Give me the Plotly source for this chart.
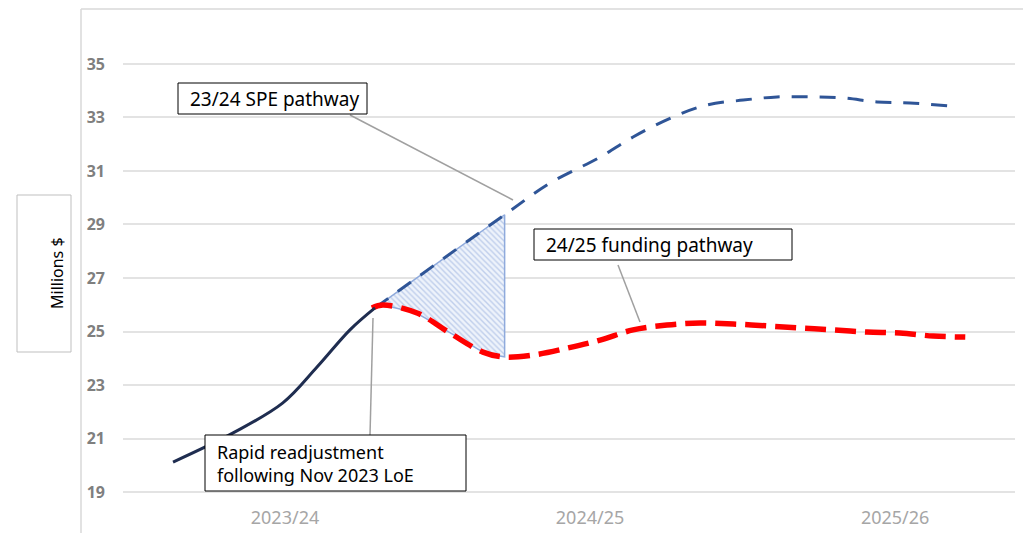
import numpy as np
import plotly.graph_objects as go

# ---- data ----
period_labels = ["2023/24", "2024/25", "2025/26"]
period_pos = [0, 1, 2]
y_ticks = [19, 21, 23, 25, 27, 29, 31, 33, 35]

actual_x = [-0.367, -0.170, -0.007, 0.105, 0.213, 0.295]
actual_y = [20.12, 21.21, 22.33, 23.67, 25.06, 25.88]

spe_x = [0.295, 0.728, 0.869, 1.033, 1.141, 1.272, 1.384, 1.502, 1.613, 1.721, 1.830, 1.941, 2.049, 2.180]
spe_y = [25.88, 29.43, 30.55, 31.52, 32.27, 33.02, 33.47, 33.65, 33.77, 33.77, 33.73, 33.58, 33.54, 33.43]

fund_x = [0.285, 0.321, 0.433, 0.541, 0.649, 0.715, 0.813, 0.925, 1.033, 1.141, 1.252, 1.361, 1.469,
          1.580, 1.689, 1.797, 1.908, 2.016, 2.125, 2.230]
fund_y = [25.88, 25.99, 25.69, 24.94, 24.23, 24.05, 24.12, 24.38, 24.68, 25.06, 25.24, 25.32, 25.28,
          25.21, 25.13, 25.06, 24.98, 24.94, 24.83, 24.79]

gap_start, gap_end = 0.30, 0.72

# ---- layout helpers: page pixel positions of callouts -> axis / paper units ----
OFF = 8  # default body margin of the written page
W, H = 1031 - OFF, 533 - OFF
X_RANGE = [-0.531, 2.393]
Y_RANGE = [18.514, 36.495]
ML, MT = 123 - OFF, 24 - OFF
MR = W - (1015 - OFF)
MB = H - (505 - OFF)
PW, PH = W - ML - MR, H - MT - MB


def px2x(p):
    return X_RANGE[0] + (p - OFF - ML) / PW * (X_RANGE[1] - X_RANGE[0])


def px2y(p):
    return Y_RANGE[1] - (p - OFF - MT) / PH * (Y_RANGE[1] - Y_RANGE[0])


def px2px(p):
    return (p - OFF - ML) / PW


def py2py(p):
    return (H - MB - (p - OFF)) / PH


# ---- hatched gap area built from the two pathways ----
gx = np.linspace(gap_start, gap_end, 40)
upper = np.interp(gx, spe_x, spe_y)
lower = np.interp(gx, fund_x, fund_y)
hx = list(gx) + list(gx[::-1]) + [gx[0]]
hy = list(upper) + list(lower[::-1]) + [upper[0]]

fig = go.Figure()
fig.add_trace(go.Scatter(
    x=hx, y=hy, mode="lines", fill="toself",
    line=dict(color="#8FAADC", width=1.5),
    fillcolor="rgba(0,0,0,0)",
    fillpattern=dict(shape="\\", fgcolor="#8FAADC", bgcolor="#EEF3FB", size=4, solidity=0.35),
    hoverinfo="skip", showlegend=False))

fig.add_trace(go.Scatter(x=spe_x, y=spe_y, mode="lines", line_shape="spline",
                         line=dict(color="#2F5597", width=3, dash="16px,12px"), showlegend=False))
fig.add_trace(go.Scatter(x=fund_x, y=fund_y, mode="lines", line_shape="spline",
                         line=dict(color="#FF0000", width=5.5, dash="21px,9px"), showlegend=False))
fig.add_trace(go.Scatter(x=actual_x, y=actual_y, mode="lines", line_shape="spline",
                         line=dict(color="#1F2D50", width=3), showlegend=False))

FONT = "Noto Sans"

# leader lines
lc = dict(color="#A0A0A0", width=1.5)
fig.add_shape(type="line", x0=px2x(350), y0=px2y(115), x1=px2x(513), y1=px2y(200), line=lc)
fig.add_shape(type="line", x0=px2x(618), y0=px2y(265), x1=px2x(640), y1=px2y(322), line=lc)
fig.add_shape(type="line", x0=px2x(370), y0=px2y(435), x1=px2x(373), y1=px2y(318), line=lc)

# callout boxes
bl = dict(color="black", width=1)
for (x0, y0, x1, y1) in [(178, 83, 367, 114), (534, 229, 792, 260), (205, 435, 466, 491)]:
    fig.add_shape(type="rect", x0=px2x(x0), y0=px2y(y0), x1=px2x(x1), y1=px2y(y1),
                  line=bl, fillcolor="white", layer="above")

callouts = [("23/24 SPE pathway", 188, 98.5, 19), ("24/25 funding pathway", 544, 244.5, 19),
            ("Rapid readjustment", 215, 451.5, 18), ("following Nov 2023 LoE", 215, 475, 18)]
for txt, px, py, fs in callouts:
    fig.add_annotation(x=px2x(px), y=px2y(py), text=txt, showarrow=False, xanchor="left",
                       yanchor="middle", font=dict(family=FONT, size=fs, color="black"))

# y-axis title box
fig.add_shape(type="rect", xref="paper", yref="paper", x0=px2px(17), y0=py2py(195),
              x1=px2px(71), y1=py2py(352), line=dict(color="#BFBFBF", width=1), fillcolor="white")
fig.add_annotation(xref="paper", yref="paper", x=px2px(44), y=py2py(273), text="Millions $",
                   textangle=-90, showarrow=False, font=dict(family=FONT, size=16, color="black"))

# outer frame (left and top)
fc = dict(color="#D9D9D9", width=1.5)
fig.add_shape(type="line", xref="paper", yref="paper", x0=px2px(81), y0=py2py(9), x1=px2px(1031),
              y1=py2py(9), line=fc)
fig.add_shape(type="line", xref="paper", yref="paper", x0=px2px(81), y0=py2py(9), x1=px2px(81),
              y1=py2py(533), line=fc)

fig.update_layout(
    width=W, height=H,
    margin=dict(l=ML, r=MR, t=MT, b=MB),
    paper_bgcolor="white", plot_bgcolor="white",
    xaxis=dict(range=X_RANGE, tickvals=period_pos, ticktext=period_labels, automargin=False,
               showgrid=False, zeroline=False, showline=False, ticks="",
               tickfont=dict(family=FONT, size=18, color="#A6A6A6")),
    yaxis=dict(range=Y_RANGE, tickvals=y_ticks, showgrid=True, gridcolor="#E3E3E3", automargin=False,
               gridwidth=1.5, zeroline=False, showline=False, ticks="", ticklabelstandoff=17,
               tickfont=dict(family=FONT, size=16, color="#7F7F7F", weight="bold")),
)

fig.write_html("out.html")
